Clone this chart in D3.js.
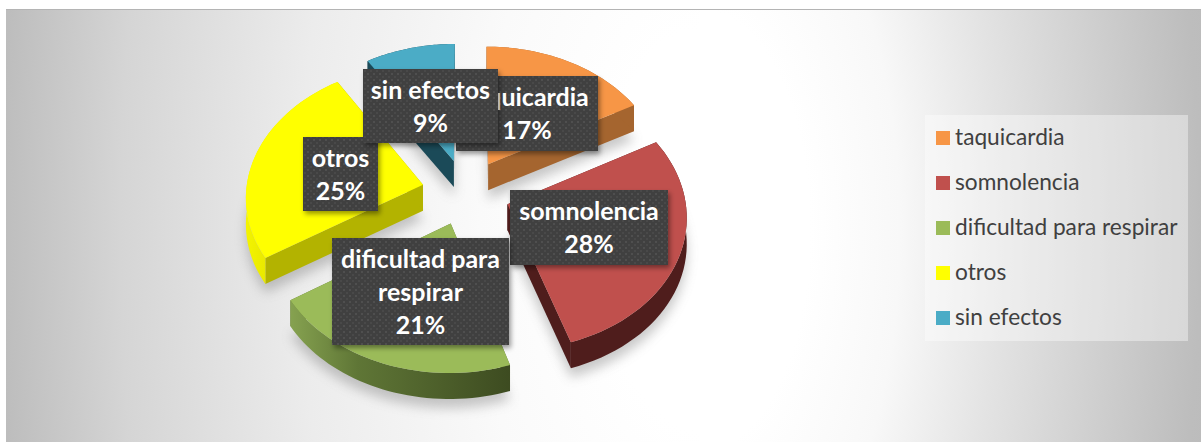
<!DOCTYPE html>
<html>
<head>
<meta charset="utf-8">
<script src="https://cdn.jsdelivr.net/npm/d3@7"></script>
<style>
	html, body { margin: 0; background: #fff; overflow: hidden; }
	svg { display: block; font-family: Lato, "Open Sans", sans-serif; }
</style>
</head>
<body>
<svg id="chart" width="1201" height="442"></svg>
<script>
const categories = ['taquicardia', 'somnolencia', 'dificultad para respirar', 'otros', 'sin efectos']
const values = [17, 28, 21, 25, 9]
const labelLines = [['taquicardia'], ['somnolencia'], ['dificultad para', 'respirar'], ['otros'], ['sin efectos']]
const topColors = ['#f79646', '#c0504d', '#9bbb59', '#ffff00', '#4bacc6']
const radialWallColors = ['#a5652f', '#4f1d1c', '#5d7335', '#b3b300', '#1b4a58']

// pie projection, tuned against the picture
const cx = 466, cy = 192, kx = 177, ky = 131.6, persp = 0.0825, explode = 0.25, depth = 26
// label boxes: x, y, w, h
const boxes = [[456, 76, 142, 75], [510, 190, 158, 75], [332, 238, 177, 107], [303, 137, 75, 74], [363, 69, 135, 74]]
const drawOrder = [4, 0, 3, 1, 2]
const labelOrder = [0, 1, 2, 3, 4]

const svg = d3.select('#chart')
const defs = svg.append('defs')

function panelGradient(id, stops) {
	const g = defs.append('radialGradient')
		.attr('id', id)
		.attr('gradientUnits', 'userSpaceOnUse')
		.attr('cx', 0).attr('cy', 0).attr('r', 700)
		.attr('gradientTransform', 'translate(700,230) scale(1,2)')
	stops.forEach(s => {
		g.append('stop').attr('offset', s[0] / 700).attr('stop-color', s[1])
	})
}

panelGradient('bgLeft', [[100, '#ffffff'], [220, '#fafafa'], [400, '#ececec'], [580, '#d5d5d5'], [700, '#bdbdbd']])
panelGradient('bgRight', [[110, '#ffffff'], [200, '#f8f8f8'], [300, '#e3e3e3'], [400, '#d0d0d0'], [500, '#bdbdbd'], [700, '#b0b0b0']])

const greenWall = defs.append('linearGradient')
	.attr('id', 'greenWall')
	.attr('gradientUnits', 'userSpaceOnUse')
	.attr('x1', 290).attr('x2', 515).attr('y1', 0).attr('y2', 0)
;[[0, '#86a250'], [0.3, '#5f7636'], [1, '#3c4a20']].forEach(s => {
	greenWall.append('stop').attr('offset', s[0]).attr('stop-color', s[1])
})

const yellowWall = defs.append('linearGradient')
	.attr('id', 'yellowWall')
	.attr('gradientUnits', 'userSpaceOnUse')
	.attr('x1', 245).attr('x2', 272).attr('y1', 0).attr('y2', 0)
;[[0, '#f4f400'], [1, '#e6e600']].forEach(s => {
	yellowWall.append('stop').attr('offset', s[0]).attr('stop-color', s[1])
})

const outerWallColors = ['#a5652f', '#4f1d1c', 'url(#greenWall)', 'url(#yellowWall)', '#1b4a58']

defs.append('filter').attr('id', 'pieShadow')
	.attr('x', '-20%').attr('y', '-20%').attr('width', '140%').attr('height', '140%')
	.append('feGaussianBlur').attr('stdDeviation', 6)

const boxShadow = defs.append('filter').attr('id', 'boxShadow')
	.attr('x', '-20%').attr('y', '-20%').attr('width', '140%').attr('height', '140%')
boxShadow.append('feDropShadow')
	.attr('dx', 2).attr('dy', 3).attr('stdDeviation', 2.5)
	.attr('flood-color', '#000').attr('flood-opacity', 0.4)

const dots = defs.append('pattern')
	.attr('id', 'dots')
	.attr('patternUnits', 'userSpaceOnUse')
	.attr('width', 6).attr('height', 6)
dots.append('rect').attr('width', 6).attr('height', 6).attr('fill', '#3f3f3f')
dots.append('rect').attr('x', 1).attr('y', 1).attr('width', 2).attr('height', 2).attr('fill', '#4f4f4f')
dots.append('rect').attr('x', 4).attr('y', 4).attr('width', 2).attr('height', 2).attr('fill', '#4a4a4a')

// panel, split where the two sides of the backdrop fade at different rates
svg.append('rect')
	.attr('x', 6).attr('y', 10)
	.attr('width', 694).attr('height', 432)
	.attr('fill', 'url(#bgLeft)')
svg.append('rect')
	.attr('x', 700).attr('y', 10)
	.attr('width', 501).attr('height', 432)
	.attr('fill', 'url(#bgRight)')
svg.append('line')
	.attr('x1', 6).attr('x2', 1201)
	.attr('y1', 9.5).attr('y2', 9.5)
	.attr('stroke', '#b4b4b4')

const arcs = d3.pie().sort(null).value(d => d)(values)

function project(x, y) {
	const d = 1 - persp * y
	return [cx + kx * x / d, cy + ky * y / d]
}

const slices = arcs.map(a => {
	const mid = (a.startAngle + a.endAngle) / 2
	const ex = explode * Math.sin(mid)
	const ey = -explode * Math.cos(mid)
	const steps = d3.range(0, 41).map(s => {
		const t = a.startAngle + (a.endAngle - a.startAngle) * s / 40
		return project(ex + Math.sin(t), ey - Math.cos(t))
	})
	return { apex: project(ex, ey), rim: steps }
})

const line = d3.line()
const down = p => [p[0], p[1] + depth]
const closed = pts => line(pts) + 'Z'
const topPoints = s => [s.apex].concat(s.rim)

// soft shadow under the whole pie
svg.append('g')
	.attr('filter', 'url(#pieShadow)')
	.attr('opacity', 0.4)
	.selectAll('path')
	.data(slices)
	.enter()
	.append('path')
	.attr('d', s => closed(topPoints(s).map(p => [p[0], p[1] + depth + 9])))
	.attr('fill', '#777')

const pie = svg.append('g')

drawOrder.forEach(i => {
	const s = slices[i]
	const g = pie.append('g')
	const first = s.rim[0]
	const last = s.rim[s.rim.length - 1]
	g.append('path')
		.attr('d', closed([s.apex, first, down(first), down(s.apex)]))
		.attr('fill', radialWallColors[i])
	g.append('path')
		.attr('d', closed([s.apex, last, down(last), down(s.apex)]))
		.attr('fill', radialWallColors[i])
	g.append('path')
		.attr('d', closed(s.rim.concat(s.rim.map(down).reverse())))
		.attr('fill', outerWallColors[i])
	g.append('path')
		.attr('d', closed(topPoints(s)))
		.attr('fill', topColors[i])
})

// data labels
labelOrder.forEach(i => {
	const b = boxes[i]
	const g = svg.append('g')
	g.append('rect')
		.attr('x', b[0]).attr('y', b[1])
		.attr('width', b[2]).attr('height', b[3])
		.attr('fill', 'url(#dots)')
		.attr('filter', 'url(#boxShadow)')
	const lines = labelLines[i].concat([values[i] + '%'])
	g.selectAll('text')
		.data(lines)
		.enter()
		.append('text')
		.attr('x', b[0] + b[2] / 2)
		.attr('y', (d, j) => b[1] + 30 + j * 33)
		.attr('text-anchor', 'middle')
		.attr('font-size', 25)
		.attr('font-weight', 700)
		.attr('fill', '#fff')
		.text(d => d)
})

// legend
svg.append('rect')
	.attr('x', 925).attr('y', 115)
	.attr('width', 263).attr('height', 226)
	.attr('fill', '#fff')
	.attr('opacity', 0.4)

const legendY = d3.scalePoint().domain(categories).range([138, 318])

const legend = svg.selectAll('.legend')
	.data(categories)
	.enter()
	.append('g')
	.attr('class', 'legend')
	.attr('transform', d => 'translate(0,' + legendY(d) + ')')

legend.append('rect')
	.attr('x', 936).attr('y', -7)
	.attr('width', 14).attr('height', 14)
	.attr('fill', (d, i) => topColors[i])

legend.append('text')
	.attr('x', 955).attr('y', 7)
	.attr('font-size', 22.7)
	.attr('fill', '#404040')
	.text(d => d)
</script>
</body>
</html>
